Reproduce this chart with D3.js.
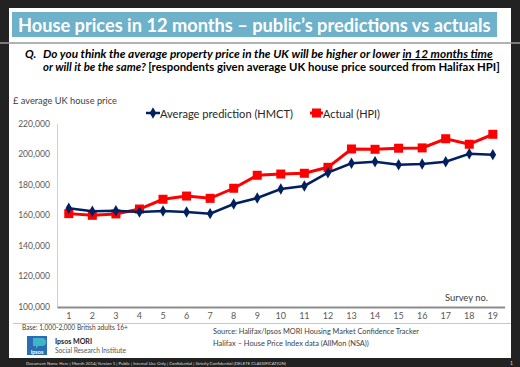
<!DOCTYPE html>
<html>
<head>
<meta charset="utf-8">
<script src="https://cdn.jsdelivr.net/npm/d3@7"></script>
<style>
  body { margin: 0; background: #222; }
  svg { display: block; font-family: Lato, "Open Sans", sans-serif; }
</style>
</head>
<body>
<svg id="chart" width="520" height="367"></svg>
<script>
// survey numbers 1..19
const surveys = d3.range(1, 20);
// average prediction (HMCT)
const prediction = [164400, 162400, 162800, 162000, 162600, 162000, 160900, 167200, 171100, 177000,
  179000, 187700, 193800, 194900, 192900, 193400, 194900, 200100, 199500];
// actual (HPI)
const actual = [160900, 159800, 160700, 163900, 170300, 172400, 170900, 177500, 186000, 186800,
  187300, 191200, 203200, 203000, 203700, 203900, 209900, 206300, 212800];
const yTicks = [100000, 120000, 140000, 160000, 180000, 200000, 220000];

const svg = d3.select("#chart");

// scale a text's font size so it spans the width seen on the slide
function fit(sel, width) {
  const node = sel.node();
  const fs = parseFloat(sel.attr("font-size"));
  const w = node.getComputedTextLength();
  if (w > 0) sel.attr("font-size", (fs * width / w).toFixed(2));
  return sel;
}

// slide background
svg.append("rect").attr("width", 520).attr("height", 367).attr("fill", "#222");
svg.append("rect").attr("x", 9).attr("y", 8).attr("width", 502).attr("height", 350).attr("fill", "#fff");

// title bar
svg.append("rect").attr("x", 12).attr("y", 12).attr("width", 485).attr("height", 25).attr("fill", "#6db2ca");
fit(svg.append("text").attr("x", 18).attr("y", 32)
  .attr("font-size", 21).attr("font-weight", "bold").attr("fill", "#fff")
  .text("House prices in 12 months – public’s predictions vs actuals"), 473);
svg.append("line").attr("x1", 0).attr("x2", 520).attr("y1", 43).attr("y2", 43)
  .attr("stroke", "#9a9a9a").attr("stroke-width", 1.5);

// question
const q = svg.append("g").attr("font-weight", "bold").attr("fill", "#000");
q.append("text").attr("x", 25).attr("y", 58).attr("font-size", 11.5).attr("font-style", "italic").text("Q.");
const l1 = q.append("text").attr("x", 43).attr("y", 58).attr("font-size", 12).attr("font-style", "italic");
l1.append("tspan").text("Do you think the average property price in the UK will be higher or lower ");
l1.append("tspan").attr("text-decoration", "underline").text("in 12 months time");
fit(l1, 450);
const l2 = q.append("text").attr("x", 43).attr("y", 71).attr("font-size", 12);
l2.append("tspan").attr("font-style", "italic").text("or will it be the same? ");
l2.append("tspan").text("[respondents given average UK house price sourced from Halifax HPI]");
fit(l2, 457);

// chart
const x = d3.scaleBand().domain(surveys).range([57, 504.6]);
const y = d3.scaleLinear().domain([100000, 220000]).range([306.7, 123.3]);

fit(svg.append("text").attr("x", 13).attr("y", 104).attr("font-size", 11).attr("fill", "#404040")
  .text("£ average UK house price"), 104);

const yAxis = svg.append("g").attr("transform", "translate(57,0)")
  .call(d3.axisLeft(y).tickValues(yTicks).tickSize(0).tickPadding(7).tickFormat(d3.format(",")));
yAxis.select(".domain").attr("stroke", "#d0d0d0");
yAxis.selectAll("text").attr("font-size", 8.6).attr("fill", "#595959").attr("font-family", "Lato, sans-serif");

const xAxis = svg.append("g").attr("transform", "translate(0,307)")
  .call(d3.axisBottom(x).tickSize(0).tickPadding(6));
xAxis.select(".domain").attr("stroke", "#8c8c8c").attr("stroke-width", 2);
xAxis.selectAll("text").attr("font-size", 9).attr("fill", "#595959").attr("font-family", "Lato, sans-serif");

fit(svg.append("text").attr("x", 445).attr("y", 301)
  .attr("font-size", 11).attr("fill", "#404040").text("Survey no."), 43);

const cx = d => x(d) + x.bandwidth() / 2;
const line = d3.line().x((d, i) => cx(surveys[i])).y(d => y(d));

svg.append("path").datum(actual).attr("d", line).attr("fill", "none")
  .attr("stroke", "#ff0000").attr("stroke-width", 3);
svg.append("g").selectAll("rect").data(actual).join("rect")
  .attr("x", (d, i) => cx(surveys[i]) - 4.5).attr("y", d => y(d) - 4.5)
  .attr("width", 9).attr("height", 9).attr("fill", "#ff0000");

svg.append("path").datum(prediction).attr("d", line).attr("fill", "none")
  .attr("stroke", "#002060").attr("stroke-width", 2.5);
const diamond = d3.symbol().type(d3.symbolDiamond).size(38);
svg.append("g").selectAll("path").data(prediction).join("path")
  .attr("transform", (d, i) => `translate(${cx(surveys[i])},${y(d)})`)
  .attr("d", diamond).attr("fill", "#002060");

// legend
const lg = svg.append("g").attr("fill", "#262626");
lg.append("line").attr("x1", 146).attr("x2", 160).attr("y1", 113).attr("y2", 113)
  .attr("stroke", "#002060").attr("stroke-width", 2.5);
lg.append("path").attr("transform", "translate(153,113)").attr("d", diamond).attr("fill", "#002060");
fit(lg.append("text").attr("x", 160).attr("y", 117.5).attr("font-size", 13).text("Average prediction (HMCT)"), 133);
lg.append("line").attr("x1", 310).attr("x2", 323).attr("y1", 113).attr("y2", 113)
  .attr("stroke", "#ff0000").attr("stroke-width", 3);
lg.append("rect").attr("x", 312).attr("y", 108.5).attr("width", 9).attr("height", 9).attr("fill", "#ff0000");
fit(lg.append("text").attr("x", 323).attr("y", 117.5).attr("font-size", 13).text("Actual (HPI)"), 57);

// footer
svg.append("line").attr("x1", 13).attr("x2", 511).attr("y1", 323.5).attr("y2", 323.5)
  .attr("stroke", "#c8c8c8").attr("stroke-width", 1);
fit(svg.append("text").attr("x", 22).attr("y", 330).attr("font-size", 8.5).attr("fill", "#404040")
  .text("Base: 1,000-2,000 British adults 16+"), 106);

// logo
const logo = svg.append("g");
logo.append("rect").attr("x", 27).attr("y", 336).attr("width", 20).attr("height", 19).attr("fill", "#2b6cb3");
logo.append("path").attr("d", "M33,338 h9 a3,3 0 0 1 0,8 h-4 l-2,3 v-3 h-3 z").attr("fill", "#3fb5c8");
logo.append("text").attr("x", 37).attr("y", 353.5).attr("text-anchor", "middle")
  .attr("font-size", 5.5).attr("font-weight", "bold").attr("fill", "#fff").text("Ipsos");
fit(logo.append("text").attr("x", 55).attr("y", 344).attr("font-size", 8.5).attr("font-weight", "bold")
  .attr("fill", "#222").text("Ipsos MORI"), 37);
fit(logo.append("text").attr("x", 55).attr("y", 352.5).attr("font-size", 8.5).attr("fill", "#555")
  .text("Social Research Institute"), 71);

fit(svg.append("text").attr("x", 213).attr("y", 333.5).attr("font-size", 8.3).attr("fill", "#404040")
  .text("Source: Halifax/Ipsos MORI Housing Market Confidence Tracker"), 206);
fit(svg.append("text").attr("x", 213).attr("y", 345.5).attr("font-size", 8.3).attr("fill", "#404040")
  .text("Halifax – House Price Index data (AllMon (NSA))"), 156);

fit(svg.append("text").attr("x", 26).attr("y", 364.5).attr("font-size", 4.4).attr("fill", "#ddd")
  .text("Document Name Here | Month 2014| Version 1 | Public | Internal Use Only | Confidential | Strictly Confidential (DELETE CLASSIFICATION)"), 260);
svg.append("text").attr("x", 510).attr("y", 364.5).attr("font-size", 5).attr("fill", "#ddd").text("1");
</script>
</body>
</html>
